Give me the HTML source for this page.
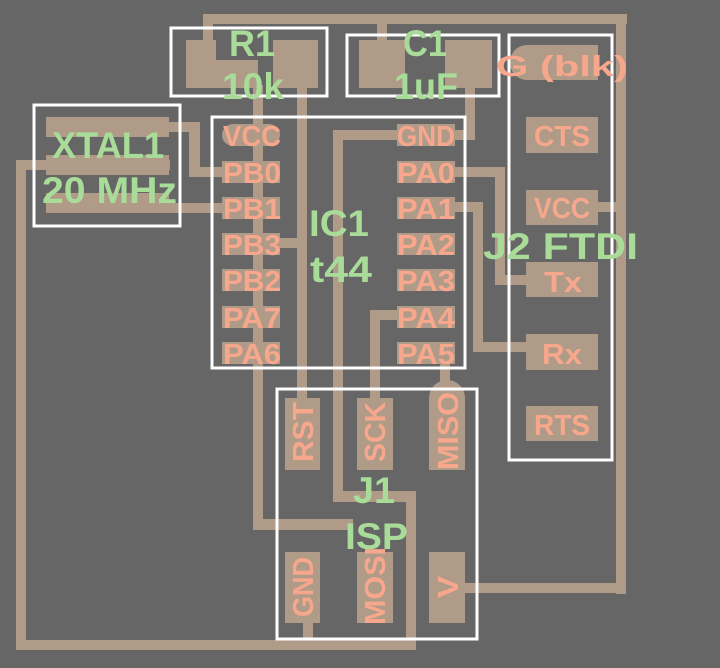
<!DOCTYPE html>
<html><head><style>
html,body{margin:0;padding:0;background:#666;}
svg{display:block;}
text{font-family:"Liberation Sans",sans-serif;}
.p text{fill:#f7a78c;font-size:29px;font-weight:bold;}
.g text{fill:#a8dc98;font-size:37px;font-weight:bold;}
</style></head><body>
<svg width="720" height="668" viewBox="0 0 720 668" xmlns="http://www.w3.org/2000/svg">
<rect width="720" height="668" fill="#666"/>
<g fill="#b09b89">
<rect x="203" y="14" width="424" height="10"/>
<rect x="203" y="14" width="10" height="30"/>
<rect x="377" y="14" width="10" height="30"/>
<rect x="616" y="14" width="10" height="580"/>
<rect x="465" y="583" width="161" height="10"/>
<rect x="598" y="202" width="28" height="10"/>
<rect x="465" y="85" width="10" height="55"/>
<rect x="333" y="130" width="142" height="10"/>
<rect x="333" y="130" width="10" height="372"/>
<rect x="333" y="491" width="83" height="11"/>
<rect x="406" y="491" width="10" height="159"/>
<rect x="16" y="640" width="400" height="10"/>
<rect x="16" y="160" width="10" height="490"/>
<rect x="16" y="160" width="154" height="10"/>
<rect x="297" y="85" width="10" height="320"/>
<rect x="270" y="238" width="37" height="10"/>
<rect x="253" y="85" width="10" height="445"/>
<rect x="253" y="519" width="100" height="11"/>
<rect x="165" y="122" width="35" height="10"/>
<rect x="189" y="122" width="11" height="55"/>
<rect x="189" y="167" width="40" height="10"/>
<rect x="165" y="203" width="60" height="10"/>
<rect x="450" y="167" width="55" height="10"/>
<rect x="495" y="167" width="10" height="118"/>
<rect x="495" y="275" width="35" height="10"/>
<rect x="450" y="202" width="33" height="10"/>
<rect x="473" y="202" width="10" height="150"/>
<rect x="473" y="342" width="57" height="10"/>
<rect x="370" y="310" width="40" height="10"/>
<rect x="370" y="310" width="10" height="90"/>
<rect x="440" y="360" width="10" height="30"/>
<rect x="303" y="615" width="10" height="30"/>
<rect x="186" y="40" width="30" height="48"/>
<rect x="186" y="60" width="72" height="28"/>
<rect x="273" y="40" width="45" height="48"/>
<rect x="359" y="40" width="46" height="48"/>
<rect x="445" y="40" width="47" height="48"/>
<rect x="46" y="117" width="123" height="20"/>
<rect x="46" y="155" width="123" height="20"/>
<rect x="46" y="193" width="123" height="20"/>
<rect x="222" y="124" width="58" height="22" rx="11"/>
<rect x="222" y="161" width="58" height="22"/>
<rect x="222" y="197" width="58" height="22"/>
<rect x="222" y="233" width="58" height="22"/>
<rect x="222" y="269" width="58" height="22"/>
<rect x="222" y="306" width="58" height="22"/>
<rect x="222" y="342" width="58" height="22"/>
<rect x="397" y="124" width="58" height="22"/>
<rect x="397" y="161" width="58" height="22"/>
<rect x="397" y="197" width="58" height="22"/>
<rect x="397" y="233" width="58" height="22"/>
<rect x="397" y="269" width="58" height="22"/>
<rect x="397" y="306" width="58" height="22"/>
<rect x="397" y="342" width="58" height="22"/>
<rect x="510" y="45" width="88" height="35" rx="17"/>
<rect x="526" y="45" width="72" height="35"/>
<rect x="526" y="117" width="72" height="36"/>
<rect x="526" y="190" width="72" height="35"/>
<rect x="526" y="262" width="72" height="35"/>
<rect x="526" y="334" width="72" height="36"/>
<rect x="526" y="406" width="72" height="35"/>
<rect x="285" y="398" width="35" height="72"/>
<rect x="357" y="398" width="36" height="72"/>
<rect x="429" y="380" width="36" height="90" rx="18"/>
<rect x="429" y="398" width="36" height="72"/>
<rect x="285" y="552" width="35" height="71"/>
<rect x="357" y="552" width="36" height="71"/>
<rect x="429" y="552" width="36" height="71"/>
</g>
<g fill="none" stroke="#fff" stroke-width="3">
<rect x="171" y="28" width="156" height="68"/>
<rect x="347" y="35" width="152" height="61"/>
<rect x="34" y="105" width="146" height="121"/>
<rect x="212" y="117" width="253" height="251"/>
<rect x="509" y="35" width="103" height="425"/>
<rect x="277" y="389" width="200" height="250"/>
</g>
<g class="p">
<text x="223" y="146" textLength="58" lengthAdjust="spacingAndGlyphs">VCC</text>
<text x="223" y="183" textLength="58" lengthAdjust="spacingAndGlyphs">PB0</text>
<text x="223" y="219" textLength="58" lengthAdjust="spacingAndGlyphs">PB1</text>
<text x="223" y="255" textLength="58" lengthAdjust="spacingAndGlyphs">PB3</text>
<text x="223" y="291" textLength="58" lengthAdjust="spacingAndGlyphs">PB2</text>
<text x="223" y="328" textLength="58" lengthAdjust="spacingAndGlyphs">PA7</text>
<text x="223" y="364" textLength="58" lengthAdjust="spacingAndGlyphs">PA6</text>
<text x="397" y="146" textLength="58" lengthAdjust="spacingAndGlyphs">GND</text>
<text x="397" y="183" textLength="58" lengthAdjust="spacingAndGlyphs">PA0</text>
<text x="397" y="219" textLength="58" lengthAdjust="spacingAndGlyphs">PA1</text>
<text x="397" y="255" textLength="58" lengthAdjust="spacingAndGlyphs">PA2</text>
<text x="397" y="291" textLength="58" lengthAdjust="spacingAndGlyphs">PA3</text>
<text x="397" y="328" textLength="58" lengthAdjust="spacingAndGlyphs">PA4</text>
<text x="397" y="364" textLength="58" lengthAdjust="spacingAndGlyphs">PA5</text>
<text x="496" y="76" textLength="132" lengthAdjust="spacingAndGlyphs">G (blk)</text>
<text x="534" y="146" textLength="56" lengthAdjust="spacingAndGlyphs">CTS</text>
<text x="534" y="218" textLength="56" lengthAdjust="spacingAndGlyphs">VCC</text>
<text x="544" y="292" textLength="38" lengthAdjust="spacingAndGlyphs">Tx</text>
<text x="542" y="364" textLength="40" lengthAdjust="spacingAndGlyphs">Rx</text>
<text x="534" y="435" textLength="56" lengthAdjust="spacingAndGlyphs">RTS</text>
<text transform="translate(313,462) rotate(-90)" textLength="60" lengthAdjust="spacingAndGlyphs">RST</text>
<text transform="translate(385,462) rotate(-90)" textLength="60" lengthAdjust="spacingAndGlyphs">SCK</text>
<text transform="translate(458,470) rotate(-90)" textLength="78" lengthAdjust="spacingAndGlyphs">MISO</text>
<text transform="translate(313,617) rotate(-90)" textLength="60" lengthAdjust="spacingAndGlyphs">GND</text>
<text transform="translate(385,625) rotate(-90)" textLength="78" lengthAdjust="spacingAndGlyphs">MOSI</text>
<text transform="translate(458,598) rotate(-90)" textLength="22" lengthAdjust="spacingAndGlyphs">V</text>
</g>
<g class="g">
<text x="229" y="56" textLength="46" lengthAdjust="spacingAndGlyphs">R1</text>
<text x="222" y="99" textLength="62" lengthAdjust="spacingAndGlyphs">10k</text>
<text x="403" y="56" textLength="44" lengthAdjust="spacingAndGlyphs">C1</text>
<text x="394" y="99" textLength="64" lengthAdjust="spacingAndGlyphs">1uF</text>
<text x="52" y="158" textLength="112" lengthAdjust="spacingAndGlyphs">XTAL1</text>
<text x="42" y="203" textLength="135" lengthAdjust="spacingAndGlyphs">20 MHz</text>
<text x="309" y="236" textLength="60" lengthAdjust="spacingAndGlyphs">IC1</text>
<text x="310" y="282" textLength="62" lengthAdjust="spacingAndGlyphs">t44</text>
<text x="483" y="259" textLength="155" lengthAdjust="spacingAndGlyphs">J2 FTDI</text>
<text x="353" y="503" textLength="42" lengthAdjust="spacingAndGlyphs">J1</text>
<text x="345" y="549" textLength="63" lengthAdjust="spacingAndGlyphs">ISP</text>
</g>
</svg>
</body></html>
